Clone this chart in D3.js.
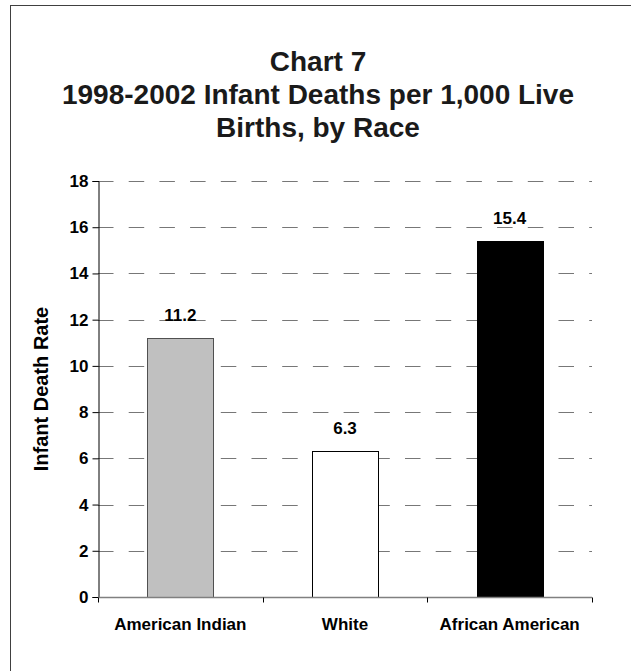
<!DOCTYPE html>
<html>
<head>
<meta charset="utf-8">
<script src="https://cdn.jsdelivr.net/npm/d3@7"></script>
<style>
	html, body { margin: 0; padding: 0; background: #fff; }
	svg { display: block; font-family: "Liberation Sans", Arial, sans-serif; }
</style>
</head>
<body>
<div id="chart"></div>
<script>
// Chart data
const titleLines = ["Chart 7", "1998-2002 Infant Deaths per 1,000 Live", "Births, by Race"];
const categories = ["American Indian", "White", "African American"];
const rates = [11.2, 6.3, 15.4];
const barColors = ["#c0c0c0", "#ffffff", "#000000"];
const yTicks = [0, 2, 4, 6, 8, 10, 12, 14, 16, 18];
const yLabel = "Infant Death Rate";

function drawChart() {
	const width = 631, height = 671;
	const plot = { left: 98, right: 592, top: 181, bottom: 597 };

	const svg = d3.select("#chart")
		.append("svg")
		.attr("width", width)
		.attr("height", height)
		.attr("viewBox", [0, 0, width, height]);

	// outer frame (right and bottom edges fall outside the picture)
	svg.append("rect")
		.attr("x", 10.5).attr("y", 5.5)
		.attr("width", 640).attr("height", 700)
		.attr("fill", "#fff")
		.attr("stroke", "#404040")
		.attr("stroke-width", 1);

	// title
	svg.append("text")
		.attr("text-anchor", "middle")
		.attr("font-size", 28)
		.attr("font-weight", "bold")
		.attr("fill", "#1a1a1a")
		.selectAll("tspan")
		.data(titleLines)
		.join("tspan")
		.attr("x", 318)
		.attr("y", (d, i) => 71 + i * 33)
		.text((d) => d);

	// scales
	const x = d3.scaleBand()
		.domain(categories)
		.range([plot.left, plot.right])
		.paddingInner(0.6)
		.paddingOuter(0.3);

	const y = d3.scaleLinear()
		.domain([0, 18])
		.range([plot.bottom, plot.top]);

	// dashed gridlines
	svg.append("g")
		.selectAll("line")
		.data(yTicks.filter((d) => d > 0))
		.join("line")
		.attr("x1", plot.left).attr("x2", plot.right)
		.attr("y1", (d) => Math.round(y(d)) + 0.5)
		.attr("y2", (d) => Math.round(y(d)) + 0.5)
		.attr("stroke", "#777")
		.attr("stroke-width", 1.2)
		.attr("stroke-dasharray", "15.5,15.2");

	// bars
	svg.append("g")
		.selectAll("rect")
		.data(categories)
		.join("rect")
		.attr("x", (d) => Math.round(x(d)) + 0.5)
		.attr("y", (d, i) => Math.round(y(rates[i])) + 0.5)
		.attr("width", Math.round(x.bandwidth()))
		.attr("height", (d, i) => Math.round(y(0)) - Math.round(y(rates[i])))
		.attr("fill", (d, i) => barColors[i])
		.attr("stroke", (d, i) => (i === 0 ? "#505050" : "#000"))
		.attr("stroke-width", 1);

	// value labels
	svg.append("g")
		.selectAll("text")
		.data(categories)
		.join("text")
		.attr("x", (d) => x(d) + x.bandwidth() / 2)
		.attr("y", (d, i) => y(rates[i]) - 17)
		.attr("text-anchor", "middle")
		.attr("font-size", 17)
		.attr("font-weight", "bold")
		.attr("fill", "#000")
		.text((d, i) => rates[i].toFixed(1));

	// y axis
	const yAxis = svg.append("g")
		.attr("transform", `translate(${plot.left + 0.5},0)`)
		.call(d3.axisLeft(y).tickValues(yTicks).tickSize(6).tickPadding(4));
	yAxis.select(".domain").attr("stroke", "#000");
	yAxis.selectAll(".tick line").attr("stroke", "#000");
	yAxis.selectAll(".tick text")
		.attr("font-family", null)
		.attr("font-size", 17)
		.attr("font-weight", "bold")
		.attr("fill", "#000");

	// x axis: baseline with category boundary ticks
	const xBase = Math.round(y(0)) + 0.5;
	const boundaries = d3.range(categories.length + 1).map((i) => plot.left + i * x.step());
	svg.append("line")
		.attr("x1", plot.left).attr("x2", plot.right)
		.attr("y1", xBase).attr("y2", xBase)
		.attr("stroke", "#808080")
		.attr("stroke-width", 1.5);
	svg.append("g")
		.selectAll("line")
		.data(boundaries)
		.join("line")
		.attr("x1", (d) => Math.round(d) + 0.5)
		.attr("x2", (d) => Math.round(d) + 0.5)
		.attr("y1", xBase).attr("y2", xBase + 5)
		.attr("stroke", "#000");

	// category labels
	svg.append("g")
		.selectAll("text")
		.data(categories)
		.join("text")
		.attr("x", (d) => x(d) + x.bandwidth() / 2)
		.attr("y", 630)
		.attr("text-anchor", "middle")
		.attr("font-size", 17)
		.attr("font-weight", "bold")
		.attr("fill", "#000")
		.text((d) => d);

	// y axis title
	svg.append("text")
		.attr("transform", `translate(48,${(plot.top + plot.bottom) / 2}) rotate(-90)`)
		.attr("text-anchor", "middle")
		.attr("font-size", 20)
		.attr("font-weight", "bold")
		.attr("fill", "#000")
		.text(yLabel);
}

document.addEventListener("DOMContentLoaded", drawChart);
</script>
</body>
</html>
